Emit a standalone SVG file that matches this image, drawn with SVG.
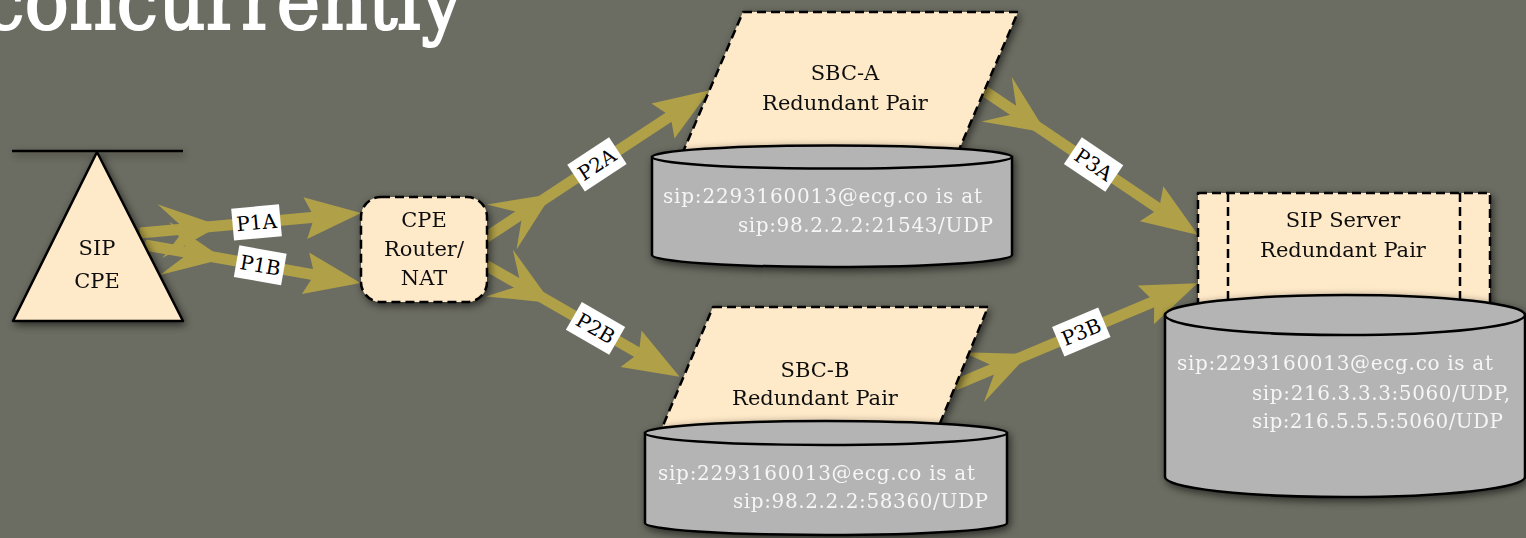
<svg xmlns="http://www.w3.org/2000/svg" width="1526" height="538" viewBox="0 0 1526 538">
  <style>
    .title { font-family: "DejaVu Serif", "Liberation Serif", serif; font-size: 80px; fill: #ffffff; stroke: #ffffff; stroke-width: 2; }
    .box { fill: #fee9c8; stroke: #000; stroke-width: 2.5; stroke-linejoin: round; }
    .dash { stroke-dasharray: 9 5; }
    .db { fill: #b4b4b4; stroke: #000; stroke-width: 2.5; }
    .nt { font-family: "DejaVu Serif", "Liberation Serif", serif; font-size: 21px; fill: #111; text-anchor: middle; }
    .dt { font-family: "DejaVu Serif", "Liberation Serif", serif; font-size: 20px; fill: #f6f6f6; }
    .arrow { fill: #b0a048; }
    .lbl { fill: #ffffff; }
    .lt { font-family: "DejaVu Serif", "Liberation Serif", serif; font-size: 20px; fill: #000; text-anchor: middle; }
    .shadow { filter: url(#sh); }
  </style>
  <defs>
    <filter id="sh" x="-20%" y="-20%" width="140%" height="140%">
      <feDropShadow dx="2" dy="3" stdDeviation="4" flood-color="#000" flood-opacity="0.6"/>
    </filter>
    <!-- fletching at the start of a link, pointing along the link -->
    <path id="tail" d="M80,0 L20,-27 L45,0 L20,27 Z"/>
    <!-- arrowhead, tip at the origin -->
    <path id="head" d="M0,0 L-56,-21 L-47,0 L-56,21 Z"/>
  </defs>

  <rect width="1526" height="538" fill="#6c6d62"/>

  <text class="title" x="-17" y="29" textLength="480" lengthAdjust="spacingAndGlyphs">concurrently</text>

  <g id="connectors" class="arrow">
    <!-- P1A: CPE to router -->
    <g transform="translate(140,233) rotate(-5.17)">
      <rect x="0" y="-5.5" width="175" height="11"/>
      <use href="#tail"/>
      <use href="#head" x="222"/>
      <g transform="translate(117,0)">
        <rect class="lbl" x="-24" y="-16" width="48" height="32"/>
        <text class="lt" y="7">P1A</text>
      </g>
    </g>
    <!-- P1B: CPE to router -->
    <g transform="translate(145,245) rotate(9.98)">
      <rect x="0" y="-5.5" width="172" height="11"/>
      <use href="#tail"/>
      <use href="#head" x="219"/>
      <g transform="translate(117,0)">
        <rect class="lbl" x="-24" y="-16" width="48" height="32"/>
        <text class="lt" y="7">P1B</text>
      </g>
    </g>
    <!-- P2A: router to SBC-A -->
    <g transform="translate(485,238) rotate(-33.33)">
      <rect x="0" y="-5.5" width="222" height="11"/>
      <use href="#tail"/>
      <use href="#head" x="269"/>
      <g transform="translate(134,0)">
        <rect class="lbl" x="-25" y="-16" width="50" height="32"/>
        <text class="lt" y="7">P2A</text>
      </g>
    </g>
    <!-- P2B: router to SBC-B -->
    <g transform="translate(482,263) rotate(29.93)">
      <rect x="0" y="-5.5" width="181" height="11"/>
      <use href="#tail"/>
      <use href="#head" x="228"/>
      <g transform="translate(131,0)">
        <rect class="lbl" x="-25" y="-16" width="50" height="32"/>
        <text class="lt" y="7">P2B</text>
      </g>
    </g>
    <!-- P3A: SBC-A to SIP server -->
    <g transform="translate(980,88) rotate(34)">
      <rect x="0" y="-5.5" width="216" height="11"/>
      <use href="#tail"/>
      <use href="#head" x="263"/>
      <g transform="translate(137,0)">
        <rect class="lbl" x="-25" y="-16" width="50" height="32"/>
        <text class="lt" y="7">P3A</text>
      </g>
    </g>
    <!-- P3B: SBC-B to SIP server -->
    <g transform="translate(955,385) rotate(-22.77)">
      <rect x="0" y="-5.5" width="216" height="11"/>
      <use href="#tail"/>
      <use href="#head" x="263"/>
      <g transform="translate(137,0)">
        <rect class="lbl" x="-25" y="-16" width="50" height="32"/>
        <text class="lt" y="7">P3B</text>
      </g>
    </g>
  </g>

  <g id="sip-cpe" class="shadow">
    <line x1="12" y1="151" x2="183" y2="151" stroke="#000" stroke-width="2.5"/>
    <polygon class="box" points="97,152 13,321 183,321"/>
    <text class="nt" x="97" y="255">SIP</text>
    <text class="nt" x="97" y="288">CPE</text>
  </g>

  <g id="cpe-router" class="shadow">
    <rect class="box dash" x="361" y="197" width="126" height="105" rx="20"/>
    <text class="nt" x="424" y="227">CPE</text>
    <text class="nt" x="424" y="256">Router/</text>
    <text class="nt" x="424" y="285">NAT</text>
  </g>

  <g id="sbc-a" class="shadow">
    <polygon class="box dash" points="743,12 1018,12 958,152 683,152"/>
    <text class="nt" x="845" y="80">SBC-A</text>
    <text class="nt" x="845" y="110">Redundant Pair</text>
  </g>

  <g id="sbc-a-db" class="shadow">
    <path class="db" d="M652,157 V255 A180,12 0 0 0 1012,255 V157 Z"/>
    <ellipse class="db" cx="832" cy="157" rx="180" ry="11.5"/>
    <text class="dt" x="663" y="203" textLength="319">sip:2293160013@ecg.co is at</text>
    <text class="dt" x="738" y="232" textLength="255">sip:98.2.2.2:21543/UDP</text>
  </g>

  <g id="sbc-b" class="shadow">
    <polygon class="box dash" points="713,307 988,307 938,428 662,428"/>
    <text class="nt" x="815" y="377">SBC-B</text>
    <text class="nt" x="815" y="405">Redundant Pair</text>
  </g>

  <g id="sbc-b-db" class="shadow">
    <path class="db" d="M645,433 V523 A181,12 0 0 0 1007,523 V433 Z"/>
    <ellipse class="db" cx="826" cy="433" rx="181" ry="12"/>
    <text class="dt" x="658" y="480" textLength="317">sip:2293160013@ecg.co is at</text>
    <text class="dt" x="733" y="508" textLength="255">sip:98.2.2.2:58360/UDP</text>
  </g>

  <g id="sip-server" class="shadow">
    <rect class="box dash" x="1198" y="193" width="292" height="122"/>
    <line class="dash" x1="1228" y1="193" x2="1228" y2="315" stroke="#000" stroke-width="2.5"/>
    <line class="dash" x1="1460" y1="193" x2="1460" y2="315" stroke="#000" stroke-width="2.5"/>
    <text class="nt" x="1343" y="227">SIP Server</text>
    <text class="nt" x="1343" y="257">Redundant Pair</text>
  </g>

  <g id="sip-server-db" class="shadow">
    <path class="db" d="M1165,315 V477 A180,20 0 0 0 1525,477 V315 Z"/>
    <ellipse class="db" cx="1345" cy="315" rx="180" ry="20"/>
    <text class="dt" x="1177" y="370" textLength="316">sip:2293160013@ecg.co is at</text>
    <text class="dt" x="1252" y="400" textLength="258">sip:216.3.3.3:5060/UDP,</text>
    <text class="dt" x="1252" y="428" textLength="251">sip:216.5.5.5:5060/UDP</text>
  </g>
</svg>
